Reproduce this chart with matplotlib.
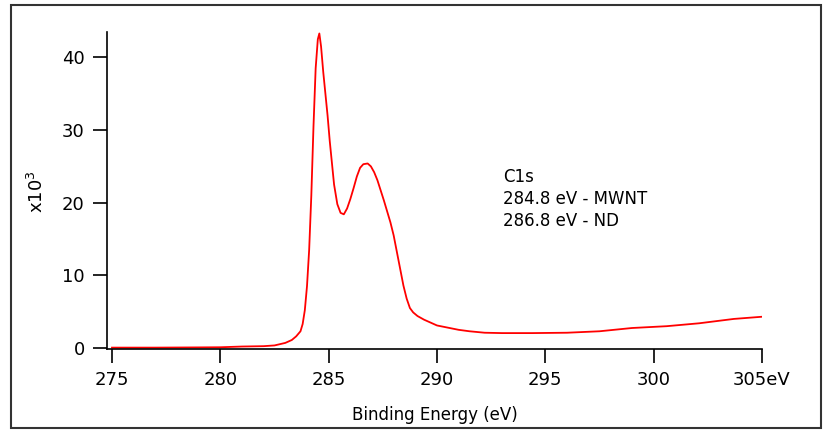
import matplotlib
matplotlib.use("Agg")
import matplotlib.pyplot as plt
from matplotlib.patches import Rectangle

# C1s XPS spectrum, counts in units of 10^3
energy = [275, 277, 279, 280, 281, 282, 282.5, 283.0, 283.3, 283.5, 283.7,
          283.8, 283.9, 284.0, 284.1, 284.2, 284.3, 284.4, 284.5, 284.57,
          284.65, 284.75, 284.85, 284.95, 285.05, 285.15, 285.25, 285.4,
          285.55, 285.7, 285.85, 286.0, 286.15, 286.3, 286.45, 286.6, 286.8,
          286.95, 287.1, 287.25, 287.4, 287.55, 287.7, 287.85, 288.0, 288.15,
          288.3, 288.45, 288.6, 288.75, 288.9, 289.1, 289.4, 289.7, 290.0,
          290.5, 291.0, 291.5, 292.2, 293.0, 294.4, 296.0, 297.5, 299.0,
          300.6, 302.1, 303.7, 305]
counts = [0.05, 0.05, 0.08, 0.1, 0.2, 0.25, 0.35, 0.7, 1.1, 1.6, 2.3,
          3.3, 5.2, 8.5, 13.5, 21.0, 30.5, 38.5, 42.5, 43.3,
          41.5, 38.0, 35.0, 32.0, 28.5, 25.5, 22.5, 19.8,
          18.6, 18.4, 19.2, 20.5, 22.0, 23.6, 24.8, 25.3, 25.4,
          25.0, 24.2, 23.1, 21.7, 20.3, 18.8, 17.3, 15.5, 13.2,
          10.9, 8.6, 6.8, 5.5, 4.9, 4.4, 3.9, 3.5, 3.1,
          2.8, 2.5, 2.3, 2.1, 2.05, 2.05, 2.1, 2.3, 2.75,
          3.0, 3.4, 4.0, 4.3]

xticks = [275, 280, 285, 290, 295, 300, 305]
xticklabels = ["275", "280", "285", "290", "295", "300", "305eV"]
yticks = [0, 10, 20, 30, 40]
notes = ["C1s", "284.8 eV - MWNT", "286.8 eV - ND"]

W, H = 829, 432
fig = plt.figure(figsize=(W / 100, H / 100), dpi=100)
ax = fig.add_axes([107 / W, 1 - 349 / H, (762 - 107) / W, (349 - 32) / H])

ax.plot(energy, counts, color="#ff0000", lw=1.3)

ax.set_xlim(274.77, 305)
ax.set_ylim(-0.14, 43.5)
ax.set_xticks(xticks)
ax.set_xticklabels(xticklabels)
ax.set_yticks(yticks)

for s in ["top", "right"]:
    ax.spines[s].set_visible(False)
for s in ["left", "bottom"]:
    ax.spines[s].set_linewidth(1.2)
ax.tick_params(direction="out", length=10, width=1.2, labelsize=13, pad=6)

ax.set_xlabel("Binding Energy (eV)", fontsize=12)
fig.text(37 / W, 1 - 192 / H, "x10$^3$", rotation=90, fontsize=13,
         ha="center", va="center")
ax.xaxis.set_label_coords(0.5, -0.18)

fig.text(503 / W, 1 - 168 / H, "\n".join(notes), fontsize=12,
         ha="left", va="top", linespacing=1.3)

# frame around the whole picture
fig.patches.append(Rectangle((11 / W, 4 / H), 810 / W, 423 / H,
                             transform=fig.transFigure, fill=False,
                             edgecolor="#333333", lw=1.5))

fig.savefig("out.png", dpi=100)
